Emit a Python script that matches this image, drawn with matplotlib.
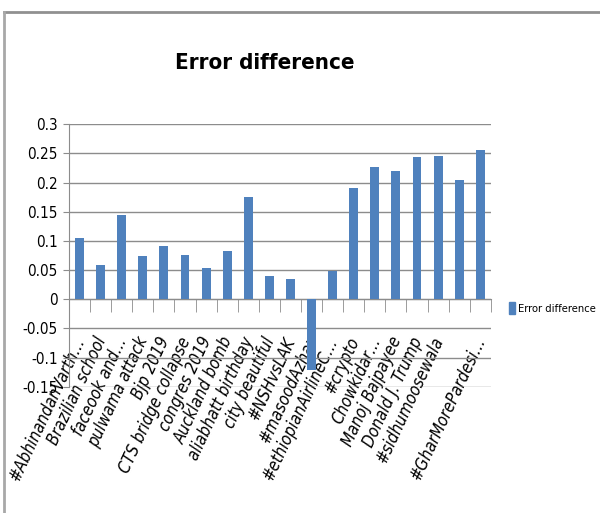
import matplotlib.pyplot as plt
import matplotlib.transforms as mtransforms
from matplotlib.lines import Line2D
from matplotlib.ticker import MultipleLocator, FixedLocator

# Error difference per topic
topics = ["#AbhinandanVarth…", "Brazilian school", "faceook and…", "pulwama attack",
          "Bjp 2019", "CTS bridge collapse", "congres 2019", "Auckland bomb",
          "aliabhatt birthday", "city beautiful", "#NSHvsLAK", "#masoodAzhar",
          "#ethiopianAirlineC…", "#crypto", "Chowkidar…", "Manoj Bajpayee",
          "Donald J. Trump", "#sidhumoosewala", "", "#GharMorePardesi…"]
err_diff = [0.105, 0.059, 0.144, 0.074, 0.091, 0.076, 0.054, 0.082, 0.175, 0.040,
            0.034, -0.121, 0.049, 0.190, 0.226, 0.219, 0.243, 0.245, 0.204, 0.256]
yticks = [-0.15, -0.1, -0.05, 0, 0.05, 0.1, 0.15, 0.2, 0.25, 0.3]
ytick_labels = ["-0.15", "-0.1", "-0.05", "0", "0.05", "0.1", "0.15", "0.2", "0.25", "0.3"]

plt.rcParams['font.family'] = "DejaVu Sans"
plt.rcParams['font.stretch'] = "condensed"

bar_color = "#4F81BD"
grid_color = "#8C8C8C"

fig = plt.figure(figsize=(6, 5.13), dpi=100)
ax = fig.add_axes([0.115, 0.246, 0.703, 0.512])

x = list(range(len(err_diff)))
ax.bar(x, err_diff, width=0.42, color=bar_color, zorder=3)

ax.set_xlim(-0.5, len(err_diff) - 0.5)
ax.set_ylim(-0.15, 0.3)
ax.set_yticks(yticks)
ax.set_yticklabels(ytick_labels, fontsize=11)
ax.yaxis.grid(True, color=grid_color, lw=1)
ax.set_axisbelow(True)

for s in ["top", "right"]:
    ax.spines[s].set_visible(False)
ax.spines["left"].set_color(grid_color)
ax.spines["bottom"].set_color(grid_color)
ax.spines["bottom"].set_position(("data", 0))
ax.tick_params(axis="y", length=4, color=grid_color, pad=4)

# category boundaries get the tick marks, labels sit on the centres
ax.xaxis.set_major_locator(FixedLocator(x))
ax.xaxis.set_minor_locator(MultipleLocator(1, offset=0.5))
ax.tick_params(axis="x", which="major", length=0, pad=25)
ax.tick_params(axis="x", which="minor", length=9, color=grid_color)
ax.set_xticklabels(topics, rotation=65, ha="right", va="top",
                   rotation_mode="anchor", fontsize=12)
shift = mtransforms.ScaledTranslation(-5 / 72, 0, fig.dpi_scale_trans)
for lab in ax.get_xticklabels():
    lab.set_fontstyle("italic")
    lab.set_transform(lab.get_transform() + shift)

fig.text(0.442, 0.877, "Error difference", ha="center", va="center",
         fontsize=16, fontweight="bold")

fig.legend(handles=[plt.Rectangle((0, 0), 1, 1, color=bar_color)],
           labels=["Error difference"], loc="center left",
           bbox_to_anchor=(0.848, 0.40), frameon=False, fontsize=8,
           handlelength=0.6, handleheight=1.3, handletextpad=0.2,
           borderpad=0, borderaxespad=0)

# chart border (top and left edges)
fig.add_artist(Line2D([0.007, 1.0], [0.977, 0.977], color="#909090", lw=2))
fig.add_artist(Line2D([0.007, 0.007], [0.0, 0.977], color="#A8A8A8", lw=2))

fig.savefig("out.png", dpi=100)
